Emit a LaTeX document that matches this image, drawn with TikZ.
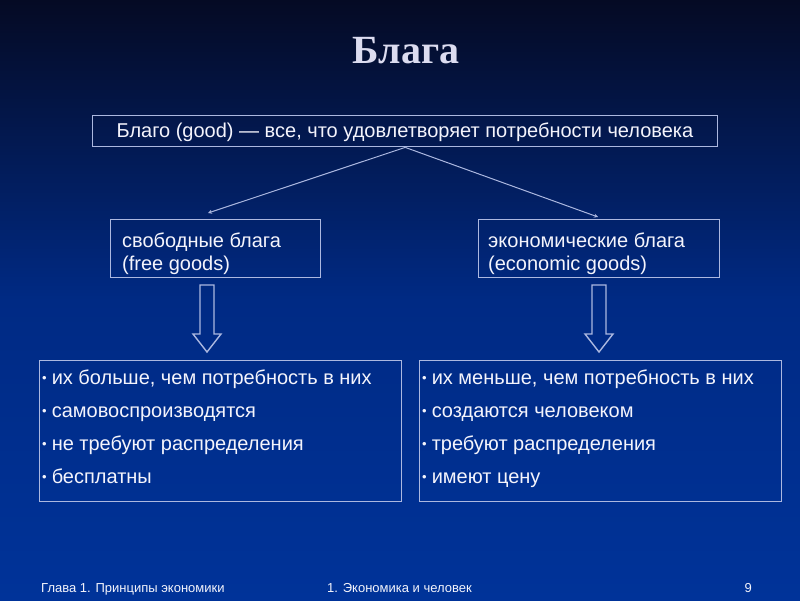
\documentclass[tikz,border=0pt]{standalone}
\usepackage{fontspec}
\setmainfont{Liberation Sans}
\newfontfamily\titlefont{Liberation Serif}
\usetikzlibrary{calc,arrows.meta}
\definecolor{bgtop}{HTML}{050A24}
\definecolor{bgmid}{HTML}{002A84}
\definecolor{bgbot}{HTML}{003399}
\definecolor{boxline}{HTML}{ACB8E0}
\definecolor{txt}{HTML}{F4F4FC}
\definecolor{ttl}{HTML}{DCDCF0}
\newcommand{\smallbul}{{\fontsize{13}{13}\selectfont\raisebox{1.5pt}{•}}}
\tikzset{
  frame/.style={draw=boxline, line width=1.4pt, inner sep=0pt},
  boxtext/.style={text=txt, font=\fontsize{20}{23}\selectfont, anchor=base west, inner sep=0pt},
  foot/.style={text=txt, font=\fontsize{13}{15}\selectfont, inner sep=0pt},
  link/.style={draw=boxline, line width=1pt, -{Stealth[length=4pt,width=4pt]}},
  hollow/.style={draw=boxline, line width=1.4pt, fill=none}
}
\begin{document}
\begin{tikzpicture}[x=1pt,y=-1pt]
\useasboundingbox (0,0) rectangle (800,600);
\shade[top color=bgtop, bottom color=bgbot, middle color=bgmid, shading angle=0] (0,0) rectangle (800,600);
% title
\node[text=ttl, font=\titlefont\bfseries\fontsize{40}{44}\selectfont, anchor=base, inner sep=0pt] (title) at (406,63) {Блага};
% boxes
\node[frame, minimum width=625, minimum height=31, anchor=north west] (good) at (92,115) {};
\node[boxtext, anchor=base] (goodt) at (405,137) {Благо (good) — все, что удовлетворяет потребности человека};
\node[frame, minimum width=210, minimum height=58, anchor=north west] (free) at (110,219) {};
\node[boxtext] (freet1) at (122,247) {свободные блага};
\node[boxtext] (freet2) at (122,270) {(free goods)};
\node[frame, minimum width=241, minimum height=58, anchor=north west] (econ) at (478,219) {};
\node[boxtext] (econt1) at (488,247) {экономические блага};
\node[boxtext] (econt2) at (488,270) {(economic goods)};
\node[frame, minimum width=362, minimum height=141, anchor=north west] (fl) at (39,360) {};
\node[frame, minimum width=362, minimum height=141, anchor=north west] (el) at (419,360) {};
% bullet lists
\foreach \t [count=\i] in {{их больше, чем потребность в них}, самовоспроизводятся, не требуют распределения, бесплатны}{
  \node[boxtext] (fl\i) at (42,{384+33*(\i-1)}) {\smallbul\hspace{5pt}\t};
}
\foreach \t [count=\i] in {{их меньше, чем потребность в них}, создаются человеком, требуют распределения, имеют цену}{
  \node[boxtext] (el\i) at (422,{384+33*(\i-1)}) {\smallbul\hspace{5pt}\t};
}
% connectors
\coordinate (split) at (good.south);
\coordinate (fa) at (208,213);
\coordinate (ea) at (598,217);
\draw[link] (split) -- (fa);
\draw[link] (split) -- (ea);
% hollow arrows
\foreach \xx in {207, 599}{
  \draw[hollow] (\xx-7,285) -- (\xx+7,285) -- (\xx+7,334) -- (\xx+14,334) -- (\xx,352) -- (\xx-14,334) -- (\xx-7,334) -- cycle;
}
% footer
\node[foot, anchor=base west] (f1) at (41,592) {Глава 1. Принципы экономики};
\node[foot, anchor=base west] (f2) at (327,592) {1. Экономика и человек};
\node[foot, anchor=base east] (f3) at (752,592) {9};
\end{tikzpicture}
\end{document}
